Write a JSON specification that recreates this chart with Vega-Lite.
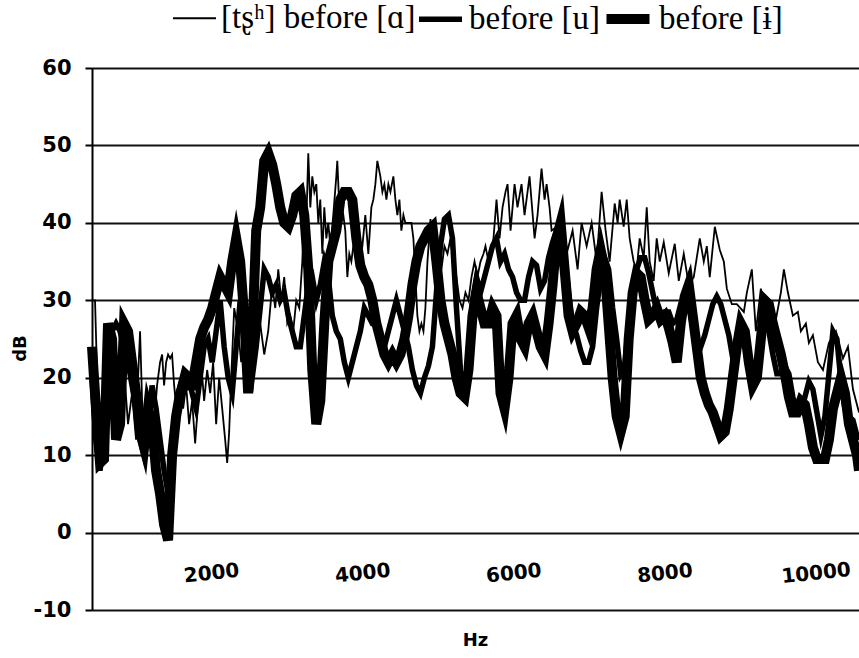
{
"$schema": "https://vega.github.io/schema/vega-lite/v6.json",
"width": 767, "height": 542,
"autosize": {"type": "none"},
"padding": {"left": 92, "top": 68, "right": 0, "bottom": 48},
"background": "white",
"config": {"view": {"stroke": "#666", "strokeWidth": 1}, "font": "DejaVu Sans"},
"datasets": {
"A": [{"Hz":424,"dB":30},{"Hz":464,"dB":30},{"Hz":504,"dB":16},{"Hz":543,"dB":10},{"Hz":583,"dB":18},{"Hz":623,"dB":12},{"Hz":663,"dB":20},{"Hz":702,"dB":14},{"Hz":742,"dB":22},{"Hz":795,"dB":16},{"Hz":848,"dB":21},{"Hz":901,"dB":14},{"Hz":954,"dB":18},{"Hz":1007,"dB":12},{"Hz":1034,"dB":20},{"Hz":1060,"dB":26},{"Hz":1087,"dB":17},{"Hz":1126,"dB":12},{"Hz":1166,"dB":16},{"Hz":1206,"dB":11},{"Hz":1246,"dB":14},{"Hz":1285,"dB":19},{"Hz":1325,"dB":22},{"Hz":1352,"dB":23},{"Hz":1378,"dB":19},{"Hz":1405,"dB":22},{"Hz":1431,"dB":23},{"Hz":1458,"dB":22.5},{"Hz":1484,"dB":23},{"Hz":1511,"dB":19},{"Hz":1550,"dB":15},{"Hz":1590,"dB":18},{"Hz":1630,"dB":16},{"Hz":1670,"dB":19},{"Hz":1709,"dB":14},{"Hz":1749,"dB":17},{"Hz":1789,"dB":11.5},{"Hz":1829,"dB":17},{"Hz":1868,"dB":22},{"Hz":1908,"dB":17},{"Hz":1948,"dB":21},{"Hz":1988,"dB":18},{"Hz":2027,"dB":22},{"Hz":2067,"dB":14},{"Hz":2107,"dB":20},{"Hz":2147,"dB":16},{"Hz":2186,"dB":12},{"Hz":2213,"dB":9},{"Hz":2239,"dB":13},{"Hz":2266,"dB":20},{"Hz":2306,"dB":29},{"Hz":2359,"dB":26},{"Hz":2398,"dB":22},{"Hz":2438,"dB":25},{"Hz":2491,"dB":21},{"Hz":2544,"dB":25},{"Hz":2597,"dB":23},{"Hz":2650,"dB":27},{"Hz":2703,"dB":23},{"Hz":2756,"dB":26},{"Hz":2809,"dB":32},{"Hz":2849,"dB":29},{"Hz":2889,"dB":34},{"Hz":2928,"dB":30},{"Hz":2968,"dB":33},{"Hz":3008,"dB":27},{"Hz":3048,"dB":28},{"Hz":3087,"dB":26},{"Hz":3127,"dB":30},{"Hz":3167,"dB":29},{"Hz":3207,"dB":35},{"Hz":3233,"dB":42},{"Hz":3260,"dB":40},{"Hz":3286,"dB":49},{"Hz":3313,"dB":42},{"Hz":3339,"dB":46},{"Hz":3366,"dB":44},{"Hz":3392,"dB":45},{"Hz":3419,"dB":40},{"Hz":3445,"dB":43},{"Hz":3472,"dB":36},{"Hz":3498,"dB":42},{"Hz":3525,"dB":38},{"Hz":3551,"dB":40},{"Hz":3578,"dB":37},{"Hz":3617,"dB":41},{"Hz":3657,"dB":46},{"Hz":3670,"dB":48},{"Hz":3697,"dB":42},{"Hz":3723,"dB":40},{"Hz":3750,"dB":41},{"Hz":3776,"dB":39},{"Hz":3803,"dB":33},{"Hz":3829,"dB":36},{"Hz":3856,"dB":35},{"Hz":3882,"dB":37},{"Hz":3909,"dB":38},{"Hz":3949,"dB":34},{"Hz":4002,"dB":37},{"Hz":4041,"dB":41},{"Hz":4081,"dB":36},{"Hz":4121,"dB":42},{"Hz":4147,"dB":43},{"Hz":4174,"dB":45},{"Hz":4200,"dB":48},{"Hz":4240,"dB":46},{"Hz":4267,"dB":44},{"Hz":4293,"dB":45},{"Hz":4320,"dB":43},{"Hz":4346,"dB":45},{"Hz":4373,"dB":44},{"Hz":4412,"dB":46},{"Hz":4439,"dB":43},{"Hz":4465,"dB":41},{"Hz":4492,"dB":43},{"Hz":4518,"dB":39},{"Hz":4545,"dB":41},{"Hz":4571,"dB":40},{"Hz":4611,"dB":40},{"Hz":4651,"dB":40},{"Hz":4677,"dB":38},{"Hz":4704,"dB":33},{"Hz":4730,"dB":28},{"Hz":4757,"dB":26},{"Hz":4783,"dB":27},{"Hz":4810,"dB":26},{"Hz":4836,"dB":29},{"Hz":4863,"dB":35},{"Hz":4903,"dB":40.5},{"Hz":4929,"dB":38},{"Hz":4969,"dB":35},{"Hz":5009,"dB":37},{"Hz":5048,"dB":34},{"Hz":5088,"dB":37},{"Hz":5128,"dB":36},{"Hz":5168,"dB":38},{"Hz":5207,"dB":35},{"Hz":5247,"dB":33},{"Hz":5287,"dB":30},{"Hz":5327,"dB":29},{"Hz":5366,"dB":31},{"Hz":5406,"dB":30},{"Hz":5446,"dB":33},{"Hz":5486,"dB":35},{"Hz":5525,"dB":33},{"Hz":5565,"dB":35},{"Hz":5605,"dB":36},{"Hz":5631,"dB":37},{"Hz":5671,"dB":35},{"Hz":5698,"dB":36},{"Hz":5737,"dB":38},{"Hz":5777,"dB":43},{"Hz":5817,"dB":38},{"Hz":5857,"dB":42},{"Hz":5896,"dB":44},{"Hz":5923,"dB":45},{"Hz":5963,"dB":39},{"Hz":6016,"dB":45},{"Hz":6055,"dB":42},{"Hz":6108,"dB":45},{"Hz":6148,"dB":41},{"Hz":6214,"dB":46},{"Hz":6281,"dB":38},{"Hz":6320,"dB":41},{"Hz":6373,"dB":47},{"Hz":6413,"dB":43},{"Hz":6440,"dB":45},{"Hz":6479,"dB":42},{"Hz":6506,"dB":39},{"Hz":6572,"dB":39.5},{"Hz":6638,"dB":39},{"Hz":6718,"dB":36.5},{"Hz":6784,"dB":39},{"Hz":6850,"dB":34},{"Hz":6903,"dB":40},{"Hz":6970,"dB":37},{"Hz":7036,"dB":40},{"Hz":7102,"dB":35},{"Hz":7168,"dB":44},{"Hz":7221,"dB":39},{"Hz":7274,"dB":35},{"Hz":7341,"dB":42.5},{"Hz":7380,"dB":40},{"Hz":7407,"dB":43},{"Hz":7460,"dB":39.5},{"Hz":7500,"dB":43},{"Hz":7539,"dB":38},{"Hz":7592,"dB":35},{"Hz":7632,"dB":34},{"Hz":7672,"dB":38},{"Hz":7725,"dB":35.5},{"Hz":7765,"dB":42},{"Hz":7804,"dB":35},{"Hz":7857,"dB":32.5},{"Hz":7897,"dB":38},{"Hz":7937,"dB":35},{"Hz":7990,"dB":37.5},{"Hz":8056,"dB":33.5},{"Hz":8136,"dB":37.3},{"Hz":8189,"dB":32.5},{"Hz":8255,"dB":36},{"Hz":8321,"dB":32},{"Hz":8387,"dB":33},{"Hz":8467,"dB":38},{"Hz":8520,"dB":35},{"Hz":8560,"dB":37},{"Hz":8599,"dB":33},{"Hz":8666,"dB":39.5},{"Hz":8732,"dB":36.5},{"Hz":8785,"dB":35},{"Hz":8825,"dB":31.5},{"Hz":8891,"dB":29.5},{"Hz":8957,"dB":29.5},{"Hz":9050,"dB":28.5},{"Hz":9090,"dB":31},{"Hz":9156,"dB":34},{"Hz":9209,"dB":26},{"Hz":9275,"dB":31.5},{"Hz":9341,"dB":28.5},{"Hz":9408,"dB":27.5},{"Hz":9474,"dB":27.5},{"Hz":9540,"dB":31},{"Hz":9580,"dB":34},{"Hz":9633,"dB":31},{"Hz":9699,"dB":28},{"Hz":9765,"dB":28.5},{"Hz":9805,"dB":26},{"Hz":9871,"dB":27},{"Hz":9911,"dB":24.5},{"Hz":9964,"dB":25.5},{"Hz":10030,"dB":22},{"Hz":10097,"dB":21},{"Hz":10176,"dB":24.5},{"Hz":10269,"dB":26},{"Hz":10362,"dB":22.5},{"Hz":10428,"dB":24},{"Hz":10494,"dB":18.5},{"Hz":10574,"dB":15.5}],
"B": [{"Hz":424,"dB":20},{"Hz":477,"dB":12},{"Hz":530,"dB":8},{"Hz":583,"dB":12},{"Hz":636,"dB":20},{"Hz":689,"dB":26},{"Hz":742,"dB":27},{"Hz":795,"dB":26},{"Hz":848,"dB":24},{"Hz":901,"dB":22},{"Hz":954,"dB":19},{"Hz":1007,"dB":16},{"Hz":1060,"dB":12},{"Hz":1113,"dB":10},{"Hz":1166,"dB":13},{"Hz":1219,"dB":19},{"Hz":1272,"dB":16},{"Hz":1325,"dB":12},{"Hz":1378,"dB":8},{"Hz":1431,"dB":5},{"Hz":1484,"dB":10},{"Hz":1537,"dB":16},{"Hz":1590,"dB":19},{"Hz":1643,"dB":21},{"Hz":1696,"dB":20.5},{"Hz":1749,"dB":18},{"Hz":1802,"dB":16},{"Hz":1855,"dB":20},{"Hz":1908,"dB":24},{"Hz":1961,"dB":25},{"Hz":2014,"dB":22},{"Hz":2067,"dB":26},{"Hz":2120,"dB":30},{"Hz":2173,"dB":24},{"Hz":2226,"dB":20},{"Hz":2279,"dB":18},{"Hz":2332,"dB":24},{"Hz":2385,"dB":30},{"Hz":2438,"dB":26},{"Hz":2491,"dB":22},{"Hz":2544,"dB":20},{"Hz":2597,"dB":24},{"Hz":2650,"dB":29},{"Hz":2703,"dB":34},{"Hz":2756,"dB":33},{"Hz":2809,"dB":31},{"Hz":2862,"dB":32},{"Hz":2915,"dB":30},{"Hz":2968,"dB":31},{"Hz":3021,"dB":28},{"Hz":3074,"dB":26},{"Hz":3127,"dB":24},{"Hz":3180,"dB":24},{"Hz":3233,"dB":28},{"Hz":3286,"dB":32},{"Hz":3339,"dB":33},{"Hz":3392,"dB":30},{"Hz":3445,"dB":32},{"Hz":3498,"dB":35},{"Hz":3551,"dB":33},{"Hz":3604,"dB":28},{"Hz":3657,"dB":26},{"Hz":3710,"dB":25},{"Hz":3763,"dB":22},{"Hz":3816,"dB":20},{"Hz":3869,"dB":22},{"Hz":3922,"dB":24},{"Hz":3975,"dB":26},{"Hz":4028,"dB":29},{"Hz":4081,"dB":28},{"Hz":4134,"dB":27},{"Hz":4187,"dB":27},{"Hz":4240,"dB":25},{"Hz":4293,"dB":24},{"Hz":4346,"dB":26},{"Hz":4399,"dB":28},{"Hz":4452,"dB":30},{"Hz":4505,"dB":28},{"Hz":4558,"dB":26},{"Hz":4611,"dB":24},{"Hz":4664,"dB":21},{"Hz":4717,"dB":19},{"Hz":4770,"dB":18},{"Hz":4823,"dB":20},{"Hz":4876,"dB":21.5},{"Hz":4929,"dB":24},{"Hz":4982,"dB":31},{"Hz":5035,"dB":37},{"Hz":5088,"dB":40.5},{"Hz":5141,"dB":41},{"Hz":5194,"dB":38},{"Hz":5247,"dB":29},{"Hz":5300,"dB":21},{"Hz":5353,"dB":18},{"Hz":5406,"dB":23},{"Hz":5459,"dB":30},{"Hz":5512,"dB":33},{"Hz":5565,"dB":31},{"Hz":5618,"dB":33},{"Hz":5671,"dB":35},{"Hz":5724,"dB":37},{"Hz":5777,"dB":38},{"Hz":5830,"dB":35},{"Hz":5883,"dB":36},{"Hz":5936,"dB":34},{"Hz":5989,"dB":33},{"Hz":6042,"dB":31},{"Hz":6095,"dB":30},{"Hz":6148,"dB":30},{"Hz":6201,"dB":33},{"Hz":6254,"dB":35},{"Hz":6307,"dB":34.5},{"Hz":6360,"dB":31.5},{"Hz":6413,"dB":32.5},{"Hz":6466,"dB":35.5},{"Hz":6519,"dB":37.5},{"Hz":6572,"dB":39},{"Hz":6625,"dB":38.5},{"Hz":6678,"dB":36},{"Hz":6731,"dB":31},{"Hz":6784,"dB":27},{"Hz":6837,"dB":25.5},{"Hz":6890,"dB":23.5},{"Hz":6943,"dB":22},{"Hz":6996,"dB":22},{"Hz":7049,"dB":24},{"Hz":7102,"dB":29},{"Hz":7155,"dB":33},{"Hz":7208,"dB":35.5},{"Hz":7261,"dB":34},{"Hz":7314,"dB":29},{"Hz":7367,"dB":25},{"Hz":7420,"dB":20.5},{"Hz":7473,"dB":21.5},{"Hz":7526,"dB":27},{"Hz":7579,"dB":31},{"Hz":7632,"dB":34},{"Hz":7685,"dB":35.5},{"Hz":7738,"dB":35.5},{"Hz":7791,"dB":33.5},{"Hz":7844,"dB":31},{"Hz":7897,"dB":28.5},{"Hz":7950,"dB":27.5},{"Hz":8003,"dB":28.5},{"Hz":8056,"dB":28.5},{"Hz":8109,"dB":27},{"Hz":8162,"dB":27.5},{"Hz":8215,"dB":29.5},{"Hz":8268,"dB":31},{"Hz":8321,"dB":29.5},{"Hz":8374,"dB":26.5},{"Hz":8427,"dB":24.5},{"Hz":8480,"dB":24},{"Hz":8533,"dB":25.5},{"Hz":8586,"dB":27.5},{"Hz":8639,"dB":29.5},{"Hz":8692,"dB":30.5},{"Hz":8745,"dB":29.5},{"Hz":8798,"dB":27.5},{"Hz":8851,"dB":25.5},{"Hz":8904,"dB":22.5},{"Hz":8957,"dB":23.5},{"Hz":9010,"dB":26},{"Hz":9063,"dB":26},{"Hz":9116,"dB":22.5},{"Hz":9169,"dB":19.5},{"Hz":9222,"dB":21},{"Hz":9275,"dB":25},{"Hz":9328,"dB":27.5},{"Hz":9381,"dB":26},{"Hz":9434,"dB":23},{"Hz":9487,"dB":20.5},{"Hz":9540,"dB":20.5},{"Hz":9593,"dB":21.5},{"Hz":9646,"dB":20.5},{"Hz":9699,"dB":17.5},{"Hz":9752,"dB":15.5},{"Hz":9805,"dB":15.5},{"Hz":9858,"dB":17.5},{"Hz":9911,"dB":19.5},{"Hz":9964,"dB":18.5},{"Hz":10017,"dB":15.5},{"Hz":10070,"dB":12.5},{"Hz":10123,"dB":15},{"Hz":10176,"dB":20.5},{"Hz":10229,"dB":26},{"Hz":10282,"dB":25},{"Hz":10335,"dB":19.5},{"Hz":10388,"dB":16},{"Hz":10441,"dB":15},{"Hz":10494,"dB":14.5},{"Hz":10547,"dB":12.5},{"Hz":10574,"dB":12}],
"C": [{"Hz":424,"dB":24},{"Hz":477,"dB":16},{"Hz":530,"dB":9},{"Hz":583,"dB":9.5},{"Hz":636,"dB":27},{"Hz":689,"dB":25},{"Hz":742,"dB":12},{"Hz":795,"dB":14},{"Hz":848,"dB":27},{"Hz":901,"dB":26},{"Hz":954,"dB":22},{"Hz":1007,"dB":18},{"Hz":1060,"dB":13},{"Hz":1113,"dB":11},{"Hz":1166,"dB":16},{"Hz":1219,"dB":14},{"Hz":1272,"dB":8},{"Hz":1325,"dB":5},{"Hz":1378,"dB":1},{"Hz":1431,"dB":-1},{"Hz":1484,"dB":10},{"Hz":1537,"dB":15},{"Hz":1590,"dB":18},{"Hz":1643,"dB":19.5},{"Hz":1696,"dB":19},{"Hz":1749,"dB":19},{"Hz":1802,"dB":22},{"Hz":1855,"dB":25},{"Hz":1908,"dB":26.5},{"Hz":1961,"dB":27.5},{"Hz":2014,"dB":29},{"Hz":2067,"dB":31},{"Hz":2120,"dB":33},{"Hz":2173,"dB":32},{"Hz":2226,"dB":31},{"Hz":2279,"dB":35},{"Hz":2332,"dB":38},{"Hz":2385,"dB":35},{"Hz":2438,"dB":28},{"Hz":2491,"dB":18},{"Hz":2544,"dB":25},{"Hz":2597,"dB":39},{"Hz":2650,"dB":42},{"Hz":2703,"dB":48},{"Hz":2756,"dB":49},{"Hz":2809,"dB":47.5},{"Hz":2862,"dB":45},{"Hz":2915,"dB":42},{"Hz":2968,"dB":40},{"Hz":3021,"dB":39.5},{"Hz":3074,"dB":41},{"Hz":3127,"dB":43.5},{"Hz":3180,"dB":44},{"Hz":3233,"dB":41},{"Hz":3286,"dB":34},{"Hz":3339,"dB":21},{"Hz":3392,"dB":14},{"Hz":3445,"dB":17},{"Hz":3498,"dB":27},{"Hz":3551,"dB":35},{"Hz":3604,"dB":37},{"Hz":3657,"dB":39},{"Hz":3710,"dB":43},{"Hz":3763,"dB":44},{"Hz":3816,"dB":44},{"Hz":3869,"dB":43},{"Hz":3922,"dB":38},{"Hz":3975,"dB":34.5},{"Hz":4028,"dB":33},{"Hz":4081,"dB":32},{"Hz":4134,"dB":30},{"Hz":4187,"dB":27},{"Hz":4240,"dB":25},{"Hz":4293,"dB":23},{"Hz":4346,"dB":22},{"Hz":4399,"dB":23},{"Hz":4452,"dB":22},{"Hz":4505,"dB":23},{"Hz":4558,"dB":25},{"Hz":4611,"dB":28},{"Hz":4664,"dB":32},{"Hz":4717,"dB":35},{"Hz":4770,"dB":37},{"Hz":4823,"dB":38},{"Hz":4876,"dB":39},{"Hz":4929,"dB":39.5},{"Hz":4982,"dB":35},{"Hz":5035,"dB":30},{"Hz":5088,"dB":27},{"Hz":5141,"dB":25},{"Hz":5194,"dB":23},{"Hz":5247,"dB":20},{"Hz":5300,"dB":18},{"Hz":5353,"dB":17.5},{"Hz":5406,"dB":21},{"Hz":5459,"dB":28},{"Hz":5512,"dB":31},{"Hz":5565,"dB":29},{"Hz":5618,"dB":27},{"Hz":5671,"dB":27},{"Hz":5724,"dB":29},{"Hz":5777,"dB":28},{"Hz":5830,"dB":18},{"Hz":5883,"dB":16},{"Hz":5936,"dB":20},{"Hz":5989,"dB":27},{"Hz":6042,"dB":28},{"Hz":6095,"dB":25},{"Hz":6148,"dB":24},{"Hz":6201,"dB":27},{"Hz":6254,"dB":28},{"Hz":6307,"dB":26},{"Hz":6360,"dB":24},{"Hz":6413,"dB":23},{"Hz":6466,"dB":27},{"Hz":6519,"dB":32},{"Hz":6572,"dB":38},{"Hz":6625,"dB":40},{"Hz":6678,"dB":34},{"Hz":6731,"dB":28},{"Hz":6784,"dB":26},{"Hz":6837,"dB":27},{"Hz":6890,"dB":28.5},{"Hz":6943,"dB":28},{"Hz":6996,"dB":26.5},{"Hz":7049,"dB":29},{"Hz":7102,"dB":34},{"Hz":7155,"dB":36.5},{"Hz":7208,"dB":34},{"Hz":7261,"dB":27},{"Hz":7314,"dB":20},{"Hz":7367,"dB":15},{"Hz":7420,"dB":13},{"Hz":7473,"dB":15},{"Hz":7526,"dB":25},{"Hz":7579,"dB":31},{"Hz":7632,"dB":33.5},{"Hz":7685,"dB":33},{"Hz":7738,"dB":30},{"Hz":7791,"dB":27.5},{"Hz":7844,"dB":28},{"Hz":7897,"dB":29},{"Hz":7950,"dB":27.5},{"Hz":8003,"dB":28},{"Hz":8056,"dB":26.5},{"Hz":8109,"dB":24.5},{"Hz":8162,"dB":22},{"Hz":8215,"dB":27},{"Hz":8268,"dB":30.5},{"Hz":8321,"dB":32},{"Hz":8374,"dB":28},{"Hz":8427,"dB":24},{"Hz":8480,"dB":20},{"Hz":8533,"dB":18},{"Hz":8586,"dB":16.5},{"Hz":8639,"dB":15.5},{"Hz":8692,"dB":14},{"Hz":8745,"dB":12.5},{"Hz":8798,"dB":13},{"Hz":8851,"dB":16},{"Hz":8904,"dB":20},{"Hz":8957,"dB":24},{"Hz":9010,"dB":27},{"Hz":9063,"dB":26},{"Hz":9116,"dB":22},{"Hz":9169,"dB":19},{"Hz":9222,"dB":20},{"Hz":9275,"dB":25},{"Hz":9328,"dB":30},{"Hz":9381,"dB":29.5},{"Hz":9434,"dB":27},{"Hz":9487,"dB":25},{"Hz":9540,"dB":23},{"Hz":9593,"dB":20.5},{"Hz":9646,"dB":17.5},{"Hz":9699,"dB":15.5},{"Hz":9752,"dB":15.5},{"Hz":9805,"dB":17},{"Hz":9858,"dB":16.5},{"Hz":9911,"dB":14},{"Hz":9964,"dB":11},{"Hz":10017,"dB":9.5},{"Hz":10070,"dB":9.5},{"Hz":10123,"dB":9.5},{"Hz":10176,"dB":12},{"Hz":10229,"dB":16},{"Hz":10282,"dB":18},{"Hz":10335,"dB":20},{"Hz":10388,"dB":18},{"Hz":10441,"dB":14},{"Hz":10494,"dB":12},{"Hz":10547,"dB":10},{"Hz":10574,"dB":8}],
"ticks": [{"Hz":1352},{"Hz":2279},{"Hz":3220},{"Hz":4147},{"Hz":5075},{"Hz":6002},{"Hz":6930},{"Hz":7857},{"Hz":8785},{"Hz":9726}]
},
"encoding": {
"x": {"field": "Hz", "type": "quantitative",
 "scale": {"domain": [424, 10574], "nice": false, "zero": false},
 "axis": {"values": [2000, 4000, 6000, 8000, 10000], "labelExpr": "'' + datum.value", "offset": -77, "domain": false, "ticks": false, "grid": false,
  "labelAngle": -6, "labelAlign": "center", "labelBaseline": "middle", "labelPadding": 40, "labelFont": "DejaVu Sans", "labelFontSize": 20, "labelFontWeight": "bold", "labelColor": "black", "labelFlush": false, "labelOverlap": false,
  "title": "Hz", "titleFont": "DejaVu Sans", "titleFontSize": 18, "titleFontWeight": "bold", "titleColor": "black", "titleBaseline": "middle", "titleY": 107, "titleX": 383}},
"y": {"field": "dB", "type": "quantitative",
 "scale": {"domain": [-10, 60], "nice": false, "zero": false},
 "axis": {"values": [-10, 0, 10, 20, 30, 40, 50, 60], "labelExpr": "'' + datum.value", "grid": true, "gridColor": "#111", "gridWidth": 2, "domainColor": "black", "domainWidth": 2, "tickColor": "black", "tickWidth": 2, "tickSize": 7,
  "labelFont": "DejaVu Sans", "labelFontSize": 21, "labelFontWeight": "bold", "labelColor": "black", "labelPadding": 14, "labelFlush": false, "labelOverlap": false,
  "title": "dB", "titleFont": "DejaVu Sans", "titleFontSize": 18, "titleFontWeight": "bold", "titleColor": "black", "titleAngle": -90, "titleAlign": "center", "titleBaseline": "middle", "titleX": -72, "titleY": 280}}
},
"layer": [
 {"data": {"name": "ticks"}, "mark": {"type": "rule", "color": "black", "strokeWidth": 2}, "encoding": {"y": {"datum": 0}, "y2": {"datum": -1}}},
 {"data": {"name": "A"}, "mark": {"type": "line", "color": "black", "strokeJoin": "miter", "strokeMiterLimit": 6},
  "encoding": {"strokeWidth": {"datum": "[tʂʰ] before [ɑ]", "type": "nominal",
   "scale": {"type": "ordinal", "domain": ["[tʂʰ] before [ɑ]", "before [u]", "before [ɨ]"], "range": [1.8, 5.5, 10]},
   "legend": {"title": null, "orient": "none", "legendX": 80, "legendY": -76, "direction": "horizontal", "symbolType": "stroke", "symbolSize": 1850, "symbolStrokeColor": "black", "labelFont": "Liberation Serif", "labelFontSize": 33, "labelColor": "black", "labelLimit": 400, "labelOffset": 4, "columnPadding": -17, "padding": 0}}}},
 {"data": {"name": "B"}, "mark": {"type": "line", "color": "black", "strokeJoin": "miter", "strokeMiterLimit": 6},
  "encoding": {"strokeWidth": {"datum": "before [u]", "type": "nominal",
   "scale": {"type": "ordinal", "domain": ["[tʂʰ] before [ɑ]", "before [u]", "before [ɨ]"], "range": [1.8, 5.5, 10]}}}},
 {"data": {"name": "C"}, "mark": {"type": "line", "color": "black", "strokeJoin": "miter", "strokeMiterLimit": 6},
  "encoding": {"strokeWidth": {"datum": "before [ɨ]", "type": "nominal",
   "scale": {"type": "ordinal", "domain": ["[tʂʰ] before [ɑ]", "before [u]", "before [ɨ]"], "range": [1.8, 5.5, 10]}}}}
]
}
